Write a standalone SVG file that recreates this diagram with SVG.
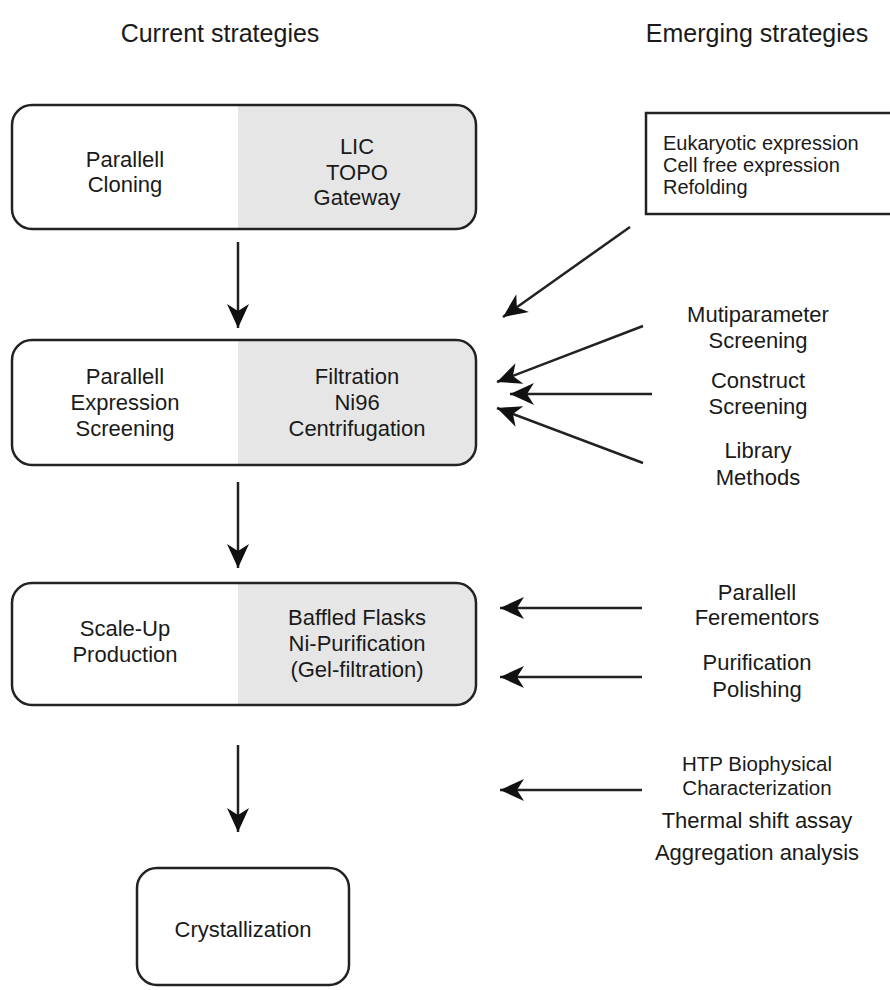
<svg xmlns="http://www.w3.org/2000/svg" width="890" height="990" viewBox="0 0 890 990">
<style>
text{font-family:"Liberation Sans",Arial,sans-serif;font-size:22px;fill:#1a1a1a;text-anchor:middle}
.title{font-size:25px}
.left{text-anchor:start;font-size:20px}
.tight{font-size:20.5px}
.box{fill:none;stroke:#222;stroke-width:2.5}
.conn{stroke:#222;stroke-width:2.5;fill:none;marker-end:url(#ah)}
</style>
<defs>
<marker id="ah" markerUnits="userSpaceOnUse" markerWidth="30" markerHeight="30" viewBox="-26 -13 30 26" refX="0" refY="0" orient="auto">
<path d="M0,0 L-24,-11 L-17,0 L-24,11 Z" fill="#111"/>
</marker>
<clipPath id="c1"><rect x="12" y="105" width="464" height="124" rx="20"/></clipPath>
<clipPath id="c2"><rect x="12" y="340" width="464" height="125" rx="20"/></clipPath>
<clipPath id="c3"><rect x="12" y="583" width="464" height="122" rx="20"/></clipPath>
</defs>
<rect width="890" height="990" fill="#fff"/>
<text class="title" x="220" y="42">Current strategies</text>
<text class="title" x="757" y="42">Emerging strategies</text>

<g id="node-cloning">
<rect x="238" y="100" width="250" height="140" fill="#e6e6e6" clip-path="url(#c1)"/>
<rect class="box" x="12" y="105" width="464" height="124" rx="20"/>
<text x="125" y="167">Parallell</text>
<text x="125" y="192">Cloning</text>
<text x="357" y="154">LIC</text>
<text x="357" y="180">TOPO</text>
<text x="357" y="205">Gateway</text>
</g>

<g id="node-expression">
<rect x="238" y="335" width="250" height="140" fill="#e6e6e6" clip-path="url(#c2)"/>
<rect class="box" x="12" y="340" width="464" height="125" rx="20"/>
<text x="125" y="384">Parallell</text>
<text x="125" y="410">Expression</text>
<text x="125" y="436">Screening</text>
<text x="357" y="384">Filtration</text>
<text x="357" y="410">Ni96</text>
<text x="357" y="436">Centrifugation</text>
</g>

<g id="node-scaleup">
<rect x="238" y="578" width="250" height="140" fill="#e6e6e6" clip-path="url(#c3)"/>
<rect class="box" x="12" y="583" width="464" height="122" rx="20"/>
<text x="125" y="636">Scale-Up</text>
<text x="125" y="662">Production</text>
<text x="357" y="625">Baffled Flasks</text>
<text x="357" y="651">Ni-Purification</text>
<text x="357" y="677">(Gel-filtration)</text>
</g>

<g id="node-crystallization">
<rect class="box" x="137" y="868" width="212" height="117" rx="20"/>
<text x="243" y="937">Crystallization</text>
</g>

<g id="node-emerging-expression">
<rect class="box" x="646" y="113" width="250" height="101"/>
<text class="left" x="663" y="150">Eukaryotic expression</text>
<text class="left" x="663" y="172">Cell free expression</text>
<text class="left" x="663" y="194">Refolding</text>
</g>

<g id="label-mutiparameter">
<text x="758" y="322">Mutiparameter</text>
<text x="758" y="348">Screening</text>
</g>
<g id="label-construct">
<text x="758" y="388">Construct</text>
<text x="758" y="414">Screening</text>
</g>
<g id="label-library">
<text x="758" y="458">Library</text>
<text x="758" y="485">Methods</text>
</g>
<g id="label-fermentors">
<text x="757" y="600">Parallell</text>
<text x="757" y="625">Ferementors</text>
</g>
<g id="label-polishing">
<text x="757" y="670">Purification</text>
<text x="757" y="697">Polishing</text>
</g>
<g id="label-htp">
<text class="tight" x="757" y="771">HTP Biophysical</text>
<text class="tight" x="757" y="795">Characterization</text>
<text x="757" y="828">Thermal shift assay</text>
<text x="757" y="860">Aggregation analysis</text>
</g>

<g id="connectors">
<line class="conn" x1="238" y1="242" x2="238" y2="328"/>
<line class="conn" x1="238" y1="482" x2="238" y2="568"/>
<line class="conn" x1="238" y1="745" x2="238" y2="832"/>
<line class="conn" x1="630" y1="227" x2="503" y2="317"/>
<line class="conn" x1="643" y1="326" x2="497" y2="382"/>
<line class="conn" x1="652" y1="394" x2="510" y2="394"/>
<line class="conn" x1="643" y1="463" x2="497" y2="408"/>
<line class="conn" x1="642" y1="608" x2="500" y2="608"/>
<line class="conn" x1="642" y1="677" x2="500" y2="677"/>
<line class="conn" x1="642" y1="790" x2="500" y2="790"/>
</g>
</svg>
